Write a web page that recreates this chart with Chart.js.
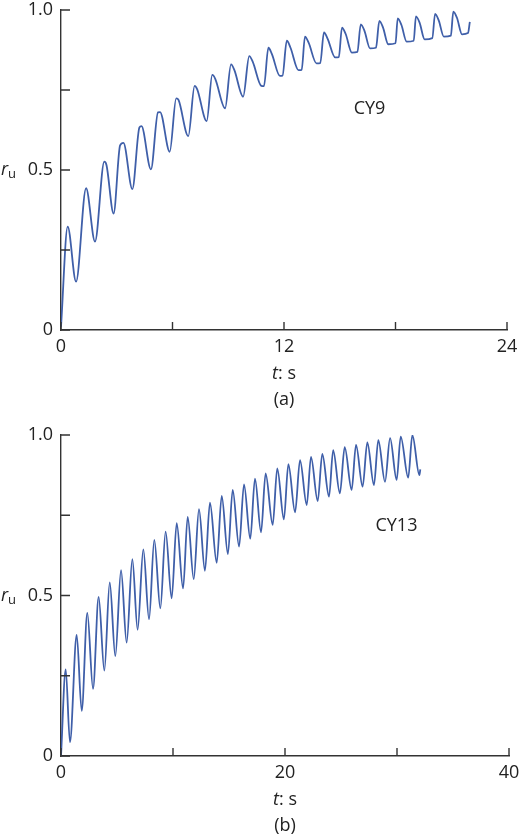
<!DOCTYPE html>
<html>
<head>
<meta charset="utf-8">
<script src="https://cdn.jsdelivr.net/npm/chart.js@4.4.1/dist/chart.umd.min.js"></script>
<style>
  html, body { margin: 0; padding: 0; background: #fff; }
  .panel { position: absolute; left: 0; width: 520px; height: 418px; }
</style>
</head>
<body>
<div class="panel" style="top:0"><canvas id="chartA"></canvas></div>
<div class="panel" style="top:418px"><canvas id="chartB"></canvas></div>
<script>
// (a) test CY9 - time (s) and excess pore pressure ratio
const tA = [0, 0.36, 0.81, 1.35, 1.83,
  2.33, 2.45, 2.83, 3.18, 3.36, 3.84, 4.22, 4.33, 4.84, 5.22, 5.33, 5.85,
  6.20, 6.33, 6.85, 7.19, 7.33, 7.84, 8.14, 8.30, 8.83, 9.15, 9.33, 9.80,
  10.13, 10.32, 10.78, 10.92, 11.16, 11.35, 11.78, 11.92, 12.15, 12.35, 12.78, 12.95,
  13.13, 13.33, 13.75, 13.95, 14.15, 14.35, 14.75, 14.95, 15.12, 15.32, 15.65, 15.95,
  16.13, 16.33, 16.63, 16.95, 17.13, 17.33, 17.61, 18.00, 18.12, 18.32, 18.60, 18.98,
  19.10, 19.30, 19.57, 19.98, 20.13, 20.33, 20.60, 20.98, 21.11, 21.31, 21.58, 21.90,
  22.00];
const ruA = [0.01, 0.323, 0.151, 0.443, 0.276,
  0.526, 0.515, 0.364, 0.577, 0.585, 0.44, 0.633, 0.637, 0.502, 0.680, 0.681, 0.557,
  0.724, 0.718, 0.606, 0.763, 0.752, 0.653, 0.797, 0.785, 0.693, 0.830, 0.812, 0.729,
  0.856, 0.838, 0.763, 0.762, 0.882, 0.862, 0.794, 0.795, 0.904, 0.882, 0.812, 0.813,
  0.917, 0.897, 0.833, 0.834, 0.930, 0.910, 0.852, 0.853, 0.945, 0.925, 0.867, 0.869,
  0.955, 0.935, 0.880, 0.882, 0.966, 0.945, 0.893, 0.896, 0.974, 0.953, 0.901, 0.904,
  0.980, 0.960, 0.908, 0.912, 0.988, 0.967, 0.917, 0.920, 0.995, 0.975, 0.924, 0.928,
  0.963];

// (b) test CY13
const tB = [0, 0.42, 0.80, 1.40, 1.85, 2.35, 2.86, 3.36, 3.87, 4.35, 4.85, 5.36, 5.86,
  6.37, 6.84, 7.35, 7.86, 8.33, 8.87, 9.34, 9.88, 10.33, 10.90, 11.31, 11.85,
  12.32, 12.85, 13.30, 13.90, 14.35, 14.90, 15.33, 15.90, 16.34, 16.90, 17.32, 17.86,
  18.27, 18.90, 19.31, 19.90, 20.30, 20.90, 21.34, 21.94, 22.32, 22.92, 23.33, 23.93,
  24.30, 24.90, 25.33, 25.95, 26.34, 26.93, 27.35, 27.94, 28.33, 28.93, 29.38, 29.97,
  30.33, 31.00, 31.37, 32.00, 32.08];
const ruB = [0, 0.27, 0.043, 0.377, 0.141, 0.446, 0.209, 0.496, 0.266, 0.541, 0.311, 0.579, 0.353,
  0.613, 0.393, 0.644, 0.426, 0.673, 0.46, 0.699, 0.491, 0.725, 0.522, 0.745, 0.551,
  0.769, 0.577, 0.789, 0.602, 0.81, 0.629, 0.829, 0.652, 0.846, 0.677, 0.864, 0.697,
  0.88, 0.72, 0.896, 0.737, 0.909, 0.759, 0.922, 0.782, 0.932, 0.794, 0.941, 0.808,
  0.953, 0.818, 0.962, 0.829, 0.969, 0.839, 0.977, 0.844, 0.984, 0.854, 0.99, 0.86,
  0.995, 0.867, 1.0, 0.875, 0.893];

// axis ticks
const yLabels = {0: '0', 0.5: '0.5', 1: '1.0'};
const xLabelsA = [0, 12, 24];
const xLabelsB = [0, 20, 40];

const FONT = '"Open Sans", "Noto Sans", sans-serif';
const INK = '#222';
const LINE = '#3f5fa9';

// inward tick marks and the extra texts (r_u, t: s, panel tag, test name)
const decor = {
  id: 'decor',
  afterDraw(chart, args, opts) {
    const ctx = chart.ctx;
    const xs = chart.scales.x, ys = chart.scales.y;
    const area = chart.chartArea;
    ctx.save();
    ctx.strokeStyle = '#333';
    ctx.lineWidth = 1.4;
    ctx.beginPath();
    xs.ticks.forEach(t => {
      const px = xs.getPixelForValue(t.value);
      ctx.moveTo(px, area.bottom);
      ctx.lineTo(px, area.bottom - 8);
    });
    ys.ticks.forEach(t => {
      const py = ys.getPixelForValue(t.value);
      ctx.moveTo(area.left, py);
      ctx.lineTo(area.left + 9, py);
    });
    ctx.stroke();

    ctx.fillStyle = INK;
    ctx.textBaseline = 'alphabetic';
    // r_u
    const py5 = ys.getPixelForValue(0.5);
    ctx.font = 'italic 18px ' + FONT;
    ctx.textAlign = 'left';
    ctx.fillText('r', 1, py5 + 5);
    ctx.font = '13px ' + FONT;
    ctx.fillText('u', 8, py5 + 8);

    // t: s
    const cx = (area.left + area.right) / 2;
    ctx.font = 'italic 18px ' + FONT;
    const w1 = ctx.measureText('t').width;
    ctx.font = '18px ' + FONT;
    const w2 = ctx.measureText(': s').width;
    const x0 = cx - (w1 + w2) / 2;
    ctx.font = 'italic 18px ' + FONT;
    ctx.fillText('t', x0, area.bottom + 49);
    ctx.font = '18px ' + FONT;
    ctx.fillText(': s', x0 + w1, area.bottom + 49);

    // (a) / (b)
    ctx.textAlign = 'center';
    ctx.textBaseline = 'middle';
    ctx.fillText(opts.tag, cx, area.bottom + 70);

    // test name
    ctx.fillText(opts.name, xs.getPixelForValue(opts.at[0]), ys.getPixelForValue(opts.at[1]));
    ctx.restore();
  }
};

function makeChart(id, t, ru, xMax, xStep, xLabels, pad, xHeight, tag, name, at) {
  const pts = t.map((v, i) => ({x: v, y: ru[i]}));
  return new Chart(document.getElementById(id), {
    type: 'line',
    data: {
      datasets: [{
        data: pts,
        borderColor: LINE,
        borderWidth: 1.8,
        pointRadius: 0,
        fill: false,
        cubicInterpolationMode: 'monotone'
      }]
    },
    options: {
      responsive: true,
      maintainAspectRatio: false,
      animation: false,
      layout: { padding: pad },
      plugins: {
        legend: { display: false },
        tooltip: { enabled: false },
        decor: { tag: tag, name: name, at: at }
      },
      scales: {
        x: {
          type: 'linear',
          min: 0,
          max: xMax,
          afterFit: s => { s.height = xHeight; s.paddingLeft = 0; s.paddingRight = 0; },
          border: { display: true, color: '#333', width: 1.4 },
          grid: { display: false, drawTicks: false },
          ticks: {
            stepSize: xStep,
            autoSkip: false,
            maxRotation: 0,
            padding: 6,
            color: INK,
            font: { family: FONT, size: 18 },
            callback: v => xLabels.includes(v) ? String(v) : ''
          }
        },
        y: {
          min: 0,
          max: 1,
          afterFit: s => { s.width = 61; s.paddingTop = 0; s.paddingBottom = 0; },
          border: { display: true, color: '#333', width: 1.4 },
          grid: { display: false, drawTicks: false },
          ticks: {
            stepSize: 0.25,
            autoSkip: false,
            padding: 8,
            color: INK,
            font: { family: FONT, size: 18 },
            callback: v => (v in yLabels) ? yLabels[v] : ''
          }
        }
      }
    },
    plugins: [decor]
  });
}

makeChart('chartA', tA, ruA, 24, 6, xLabelsA,
  { top: 10, right: 13, left: 0, bottom: 0 }, 88, '(a)', 'CY9', [16.6, 0.692]);
makeChart('chartB', tB, ruB, 40, 10, xLabelsB,
  { top: 17, right: 11, left: 0, bottom: 0 }, 80, '(b)', 'CY13', [29.95, 0.716]);
</script>
</body>
</html>
